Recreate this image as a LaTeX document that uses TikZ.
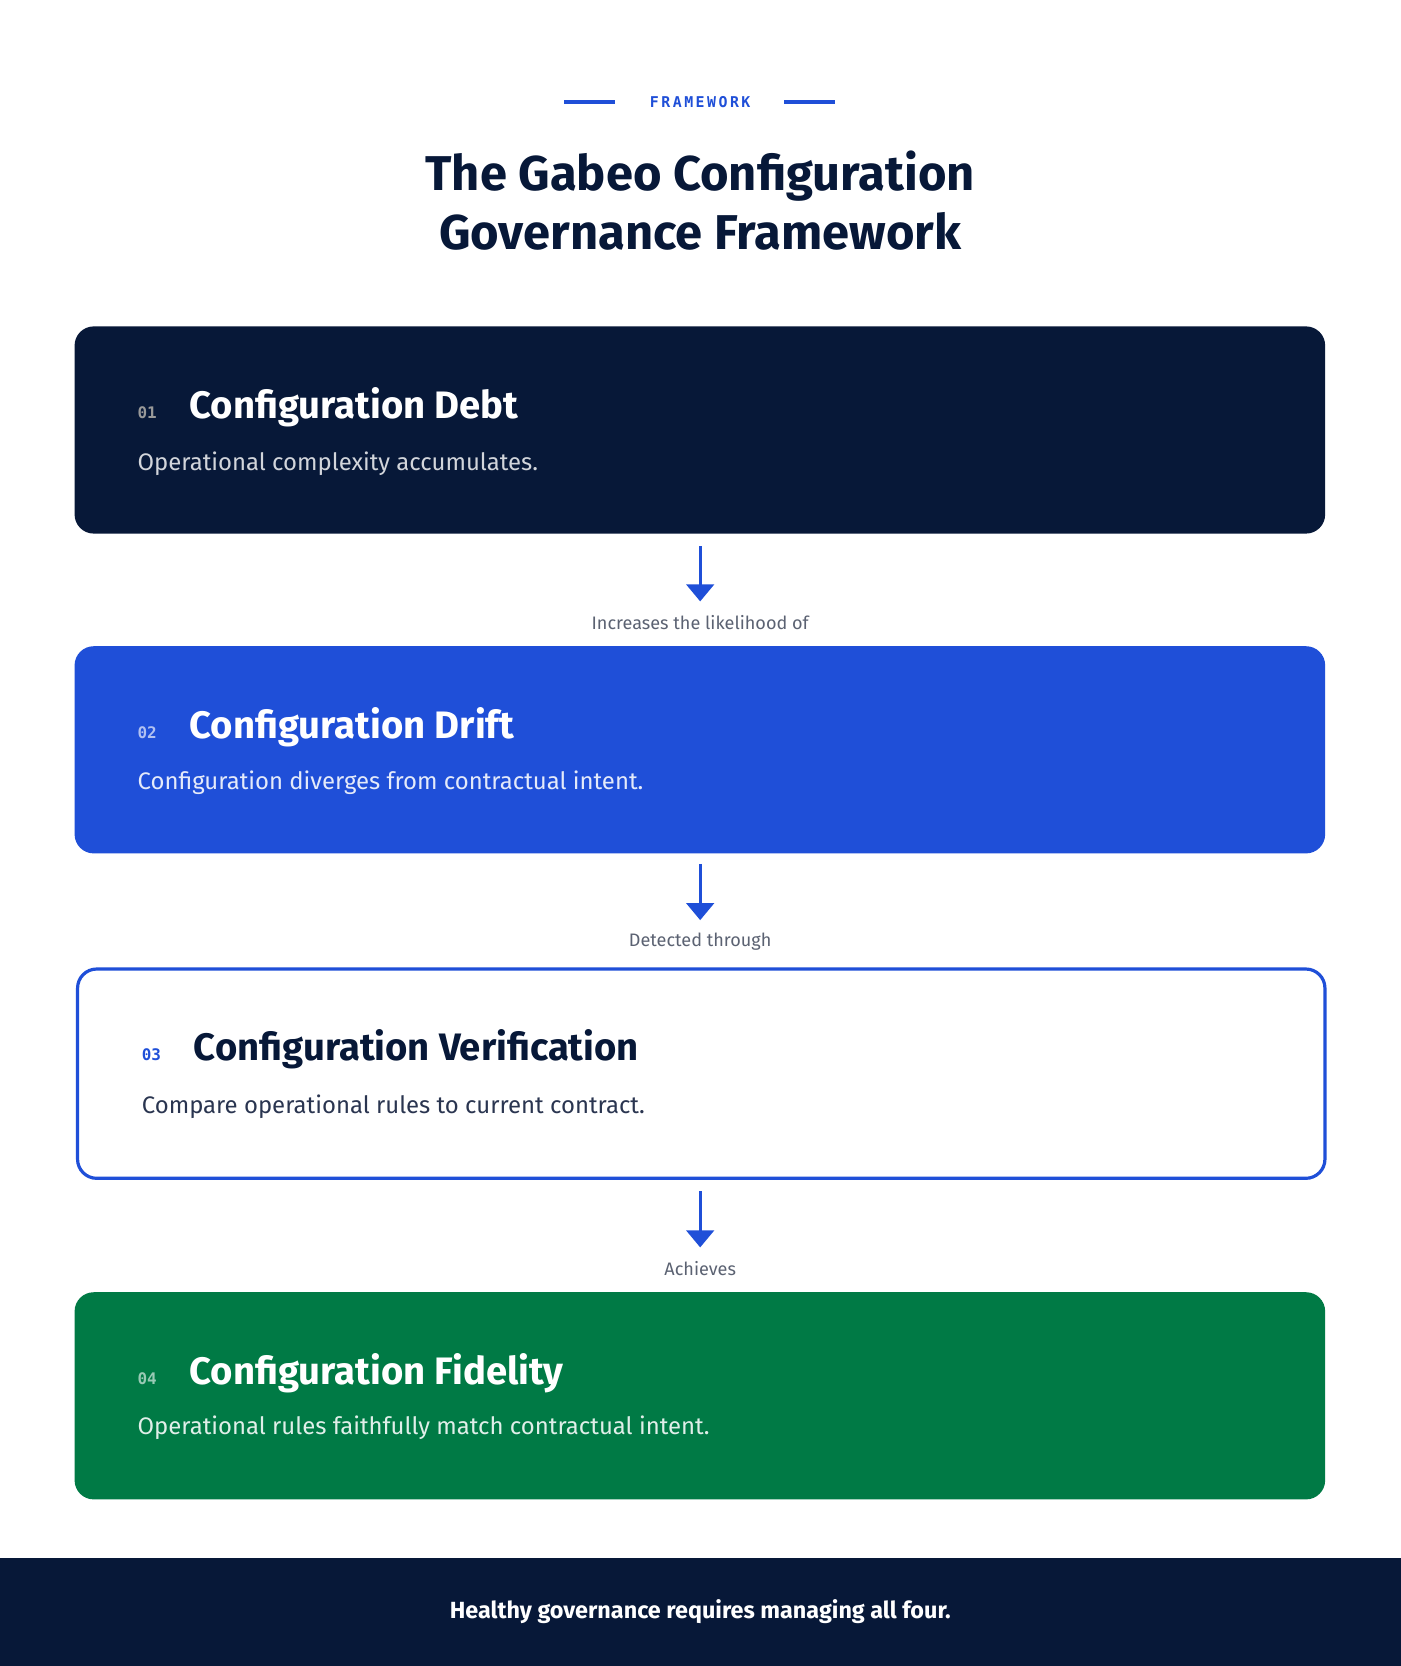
\documentclass[tikz,border=0pt]{standalone}
\usepackage{fontspec}
\setmainfont{Fira Sans}
\setmonofont{DejaVu Sans Mono}
\usetikzlibrary{arrows.meta}
\definecolor{navy}{HTML}{071838}
\definecolor{blu}{HTML}{1F4FD8}
\definecolor{grn}{HTML}{007A45}
\definecolor{lbl}{HTML}{5B6272}
\definecolor{sub3}{HTML}{2A3550}
\begin{document}
\begin{tikzpicture}[x=1pt,y=-1pt,
 box/.style={rounded corners=18pt,minimum width=1177pt,minimum height=195pt,anchor=north west,inner sep=0pt},
 num/.style={anchor=base west,font=\ttfamily\bfseries\fontsize{15}{15}\selectfont},
 ttl/.style={anchor=base west,font=\bfseries\fontsize{36}{36}\selectfont},
 sub/.style={anchor=base west,font=\fontsize{22.5}{22.5}\selectfont},
 lab/.style={font=\fontsize{17}{17}\selectfont,text=lbl,inner sep=0pt},
 arr/.style={draw=blu,line width=2.6pt,-{Triangle[width=26pt,length=16pt]}}]
\useasboundingbox (0,0) rectangle (1318,1568);
\fill[white] (0,0) rectangle (1318,1568);
% header
\node[font=\ttfamily\bfseries\fontsize{14}{14}\selectfont,text=blu] (fw) at (659,96) {F\,R\,A\,M\,E\,W\,O\,R\,K};
\coordinate (l1) at (531,96); \coordinate (l2) at (579,96);
\coordinate (r1) at (738,96); \coordinate (r2) at (786,96);
\draw[blu,line width=3pt] (l1)--(l2) (r1)--(r2);
\node[font=\bfseries\fontsize{46}{56}\selectfont,text=navy,align=center] (title) at (659,189) {The Gabeo Configuration\\Governance Framework};
% box 1
\node[box,fill=navy] (b1) at (70,307) {};
\node[num,text=gray!80] (n1) at (126,394) {01};
\node[ttl,text=white] (t1) at (175,394) {Configuration Debt};
\node[sub,text=white!82!navy] (s1) at (126,443) {Operational complexity accumulates.};
\coordinate (a1s) at (659,514); \coordinate (a1e) at (659,566);
\draw[arr] (a1s)--(a1e);
\node[lab] (L1) at (659,586) {Increases the likelihood of};
% box 2
\node[box,fill=blu] (b2) at (70,608) {};
\node[num,text=white!65!blu] (n2) at (126,695) {02};
\node[ttl,text=white] (t2) at (175,695) {Configuration Drift};
\node[sub,text=white!88!blu] (s2) at (126,743) {Configuration diverges from contractual intent.};
\coordinate (a2s) at (659,813); \coordinate (a2e) at (659,866);
\draw[arr] (a2s)--(a2e);
\node[lab] (L2) at (659,886) {Detected through};
% box 3
\node[box,draw=blu,line width=3pt,fill=white,minimum width=1174pt,minimum height=197pt] (b3) at (71.5,910.5) {};
\node[num,text=blu] (n3) at (130,998) {03};
\node[ttl,text=navy] (t3) at (179,998) {Configuration Verification};
\node[sub,text=sub3] (s3) at (130,1048) {Compare operational rules to current contract.};
\coordinate (a3s) at (659,1121); \coordinate (a3e) at (659,1174);
\draw[arr] (a3s)--(a3e);
\node[lab] (L3) at (659,1194) {Achieves};
% box 4
\node[box,fill=grn] (b4) at (70,1216) {};
\node[num,text=white!60!grn] (n4) at (126,1303) {04};
\node[ttl,text=white] (t4) at (175,1303) {Configuration Fidelity};
\node[sub,text=white!88!grn] (s4) at (126,1350) {Operational rules faithfully match contractual intent.};
% footer
\node[fill=navy,minimum width=1318pt,minimum height=102pt,anchor=north west,inner sep=0pt] (foot) at (0,1466) {};
\node[font=\bfseries\fontsize{22}{22}\selectfont,text=white] (ft) at (659,1517) {Healthy governance requires managing all four.};
\end{tikzpicture}
\end{document}
